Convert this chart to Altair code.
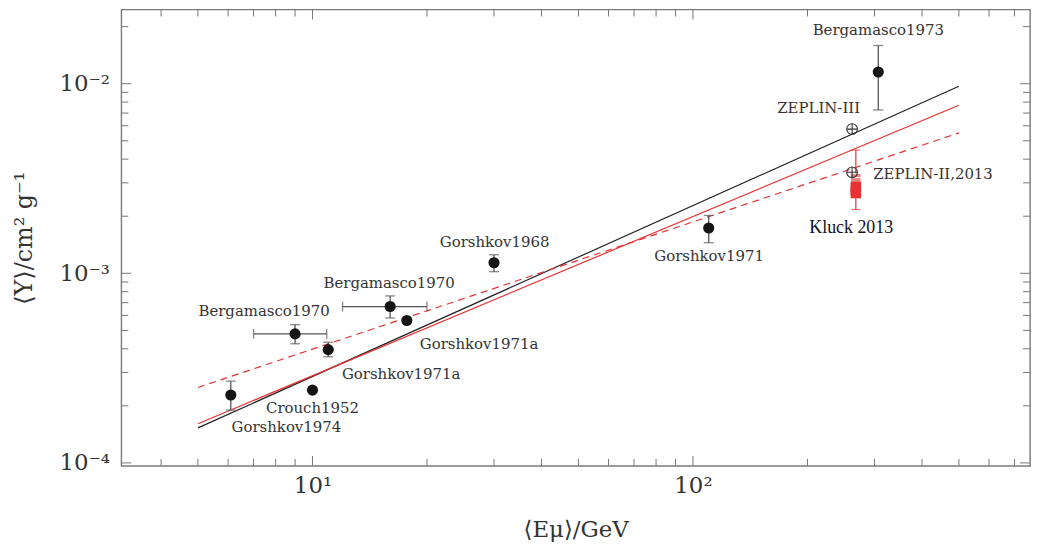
import altair as alt
import pandas as pd

# ---------------- data ----------------
pt_names = ["Gorshkov1974", "Crouch1952", "Bergamasco1970", "Gorshkov1971a",
            "Bergamasco1970", "Gorshkov1971a", "Gorshkov1968", "Gorshkov1971",
            "Bergamasco1973"]
pt_x = [6.1, 10.0, 9.0, 11.0, 16.0, 17.7, 30.0, 110.0, 307.0]
pt_y = [2.28e-4, 2.42e-4, 4.79e-4, 3.96e-4, 6.68e-4, 5.64e-4, 1.137e-3, 1.734e-3, 1.153e-2]

err_x = [6.1, 9.0, 11.0, 16.0, 30.0, 110.0, 307.0]
err_lo = [1.90e-4, 4.25e-4, 3.63e-4, 5.81e-4, 1.02e-3, 1.45e-3, 7.27e-3]
err_hi = [2.70e-4, 5.36e-4, 4.33e-4, 7.60e-4, 1.253e-3, 2.02e-3, 1.59e-2]

xerr_y = [4.79e-4, 6.68e-4]
xerr_lo = [7.0, 12.0]
xerr_hi = [10.9, 20.0]

zeplin_x = [262.0, 262.0]
zeplin_y = [5.76e-3, 3.41e-3]

kluck_x = [268.0]
kluck_open_y = [3.15e-3, 3.0e-3]
kluck_fill_y = [2.85e-3, 2.75e-3, 2.65e-3]
kluck_lo = [2.17e-3]
kluck_hi = [4.47e-3]

fit_x = [5.0, 500.0]
fit_black = [1.53e-4, 9.7e-3]
fit_red = [1.61e-4, 7.7e-3]
fit_red_dash = [2.5e-4, 5.5e-3]

lab_text = ["Gorshkov1974", "Crouch1952", "Bergamasco1970", "Gorshkov1971a",
            "Bergamasco1970", "Gorshkov1971a", "Gorshkov1968", "Gorshkov1971",
            "Bergamasco1973", "ZEPLIN-III", "ZEPLIN-II,2013"]
lab_x = [8.54, 10.0, 7.46, 17.1, 15.9, 27.4, 30.1, 110.3, 307.0, 214.0, 427.6]
lab_y = [1.55e-4, 1.94e-4, 6.34e-4, 2.93e-4, 8.89e-4, 4.26e-4, 1.46e-3, 1.23e-3,
         1.91e-2, 7.42e-3, 3.34e-3]

kluck_lab = ["Kluck 2013"]
kluck_lab_x = [260.6]
kluck_lab_y = [1.73e-3]

x_minor = [4, 5, 6, 7, 8, 9, 20, 30, 40, 50, 60, 70, 80, 90, 200, 300, 400, 500, 600, 700]
x_major = [10, 100]
y_minor = [2e-4, 3e-4, 4e-4, 5e-4, 6e-4, 7e-4, 8e-4, 9e-4,
           2e-3, 3e-3, 4e-3, 5e-3, 6e-3, 7e-3, 8e-3, 9e-3, 2e-2]
y_major = [1e-4, 1e-3, 1e-2]

# ---------------- layout / style ----------------
W, H = 914, 459
XDOM = [3.145, 769.0]
YDOM = [9.645e-5, 0.0246]
SERIF = "DejaVu Serif"
INK = "#333333"
RED = "#e63232"
GREY = "#555555"

xs = alt.Scale(type="log", domain=XDOM, nice=False)
ys = alt.Scale(type="log", domain=YDOM, nice=False)

x_axis = alt.Axis(values=x_major, labelExpr="datum.value < 50 ? '10¹' : '10²'",
                  ticks=False, domain=False, grid=False, labelFont=SERIF,
                  labelFontSize=23, labelColor=INK, labelPadding=9,
                  title="⟨Eμ⟩/GeV", titleFont=SERIF, titleFontSize=23,
                  titleFontWeight="normal", titleColor=INK, titleY=64,
                  titleBaseline="middle")
y_axis = alt.Axis(values=y_major,
                  labelExpr="datum.value < 0.0005 ? '10⁻⁴' : (datum.value < 0.005 ? '10⁻³' : '10⁻²')",
                  ticks=False, domain=False, grid=False, labelFont=SERIF,
                  labelFontSize=23, labelColor=INK, labelPadding=12,
                  title="⟨Y⟩/cm² g⁻¹", titleFont=SERIF, titleFontSize=24,
                  titleFontWeight="normal", titleColor=INK, titleX=-97,
                  titleY=H / 2, titleAngle=-90, titleAlign="center",
                  titleBaseline="middle")


def X(f):
    return alt.X(f, type="quantitative", scale=xs, axis=x_axis)


def Y(f):
    return alt.Y(f, type="quantitative", scale=ys, axis=y_axis)


# fit lines
fits = pd.DataFrame({"x": fit_x * 3,
                     "y": fit_black + fit_red + fit_red_dash,
                     "s": ["b"] * 2 + ["r"] * 2 + ["d"] * 2})
line_black = alt.Chart(fits).transform_filter("datum.s == 'b'").mark_line(
    color="#222222", strokeWidth=1.2).encode(x=X("x"), y=Y("y"))
line_red = alt.Chart(fits).transform_filter("datum.s == 'r'").mark_line(
    color=RED, strokeWidth=1.2).encode(x=X("x"), y=Y("y"))
line_dash = alt.Chart(fits).transform_filter("datum.s == 'd'").mark_line(
    color=RED, strokeWidth=1.2, strokeDash=[7, 5]).encode(x=X("x"), y=Y("y"))

# vertical error bars
errs = pd.DataFrame({"x": err_x, "lo": err_lo, "hi": err_hi})
ebar = alt.Chart(errs).mark_rule(color=GREY, strokeWidth=1.3).encode(
    x=X("x"), y=Y("lo"), y2="hi")
ecap_lo = alt.Chart(errs).mark_tick(color=GREY, orient="horizontal", size=10,
                                    thickness=1.3).encode(x=X("x"), y=Y("lo"))
ecap_hi = alt.Chart(errs).mark_tick(color=GREY, orient="horizontal", size=10,
                                    thickness=1.3).encode(x=X("x"), y=Y("hi"))

# horizontal error bars
xerrs = pd.DataFrame({"y": xerr_y, "lo": xerr_lo, "hi": xerr_hi})
xbar = alt.Chart(xerrs).mark_rule(color=GREY, strokeWidth=1.3).encode(
    x=X("lo"), x2="hi", y=Y("y"))
xcap_lo = alt.Chart(xerrs).mark_tick(color=GREY, orient="vertical", size=10,
                                     thickness=1.3).encode(x=X("lo"), y=Y("y"))
xcap_hi = alt.Chart(xerrs).mark_tick(color=GREY, orient="vertical", size=10,
                                     thickness=1.3).encode(x=X("hi"), y=Y("y"))

# main data points
pts = pd.DataFrame({"name": pt_names, "x": pt_x, "y": pt_y})
points = alt.Chart(pts).mark_point(shape="circle", filled=True, size=125,
                                   color="#151515", opacity=1).encode(
    x=X("x"), y=Y("y"))

# ZEPLIN points (open circle with cross)
zep = pd.DataFrame({"x": zeplin_x, "y": zeplin_y})
zep_c = alt.Chart(zep).mark_point(shape="circle", filled=False, size=115,
                                  color="#333333", strokeWidth=1.1, opacity=1).encode(
    x=X("x"), y=Y("y"))
zep_p = alt.Chart(zep).mark_point(shape="M-1,0L1,0M0,-1L0,1", filled=False,
                                  size=115, color="#333333", strokeWidth=1.1,
                                  opacity=1).encode(x=X("x"), y=Y("y"))

# Kluck 2013 (red)
kerr = pd.DataFrame({"x": kluck_x, "lo": kluck_lo, "hi": kluck_hi})
kbar = alt.Chart(kerr).mark_rule(color=RED, strokeWidth=1.2).encode(
    x=X("x"), y=Y("lo"), y2="hi")
kcap_lo = alt.Chart(kerr).mark_tick(color=RED, orient="horizontal", size=9,
                                    thickness=1.2).encode(x=X("x"), y=Y("lo"))
kcap_hi = alt.Chart(kerr).mark_tick(color=RED, orient="horizontal", size=9,
                                    thickness=1.2).encode(x=X("x"), y=Y("hi"))
kopen = pd.DataFrame({"x": kluck_x * len(kluck_open_y), "y": kluck_open_y})
kfill = pd.DataFrame({"x": kluck_x * len(kluck_fill_y), "y": kluck_fill_y})
ksq_open = alt.Chart(kopen).mark_point(shape="square", filled=True, size=110,
                                       fill="#ee8080", stroke="white",
                                       strokeWidth=1, opacity=1).encode(
    x=X("x"), y=Y("y"))
ksq_fill = alt.Chart(kfill).mark_point(shape="square", filled=True, size=110,
                                       color=RED, opacity=1).encode(
    x=X("x"), y=Y("y"))

# labels
labs = pd.DataFrame({"t": lab_text, "x": lab_x, "y": lab_y})
labels = alt.Chart(labs).mark_text(font=SERIF, fontSize=15, color=INK,
                                   align="center", baseline="middle").encode(
    x=X("x"), y=Y("y"), text="t:N")
klabs = pd.DataFrame({"t": kluck_lab, "x": kluck_lab_x, "y": kluck_lab_y})
klabel = alt.Chart(klabs).mark_text(font="Liberation Serif", fontSize=18,
                                    color="#101020", align="center",
                                    baseline="middle").encode(
    x=X("x"), y=Y("y"), text="t:N")

# inward tick marks on all four sides
TICK = "#777777"
xmin_df = pd.DataFrame({"v": x_minor})
xmaj_df = pd.DataFrame({"v": x_major})
ymin_df = pd.DataFrame({"v": y_minor})
ymaj_df = pd.DataFrame({"v": y_major})


def xticks(df, ln):
    b = alt.Chart(df).mark_rule(color=TICK, strokeWidth=1).encode(
        x=X("v"), y=alt.value(H), y2=alt.value(H - ln))
    t = alt.Chart(df).mark_rule(color=TICK, strokeWidth=1).encode(
        x=X("v"), y=alt.value(0), y2=alt.value(ln))
    return [b, t]


def yticks(df, ln):
    l = alt.Chart(df).mark_rule(color=TICK, strokeWidth=1).encode(
        y=Y("v"), x=alt.value(0), x2=alt.value(ln))
    r = alt.Chart(df).mark_rule(color=TICK, strokeWidth=1).encode(
        y=Y("v"), x=alt.value(W), x2=alt.value(W - ln))
    return [l, r]


tick_layers = xticks(xmin_df, 7) + xticks(xmaj_df, 10) + yticks(ymin_df, 7) + yticks(ymaj_df, 10)

chart = alt.layer(
    line_black, line_red, line_dash,
    ebar, ecap_lo, ecap_hi, xbar, xcap_lo, xcap_hi,
    kbar, kcap_lo, kcap_hi, ksq_open, ksq_fill,
    points, zep_c, zep_p, labels, klabel,
    *tick_layers
).properties(
    width=W, height=H,
    autosize=alt.AutoSizeParams(type="none"),
    padding={"left": 114, "top": 0, "right": 3, "bottom": 80},
    background="white",
).configure_view(stroke="#7a7a7a", strokeWidth=1.4)

chart.save("out.html", embed_options={"renderer": "svg", "actions": False})
